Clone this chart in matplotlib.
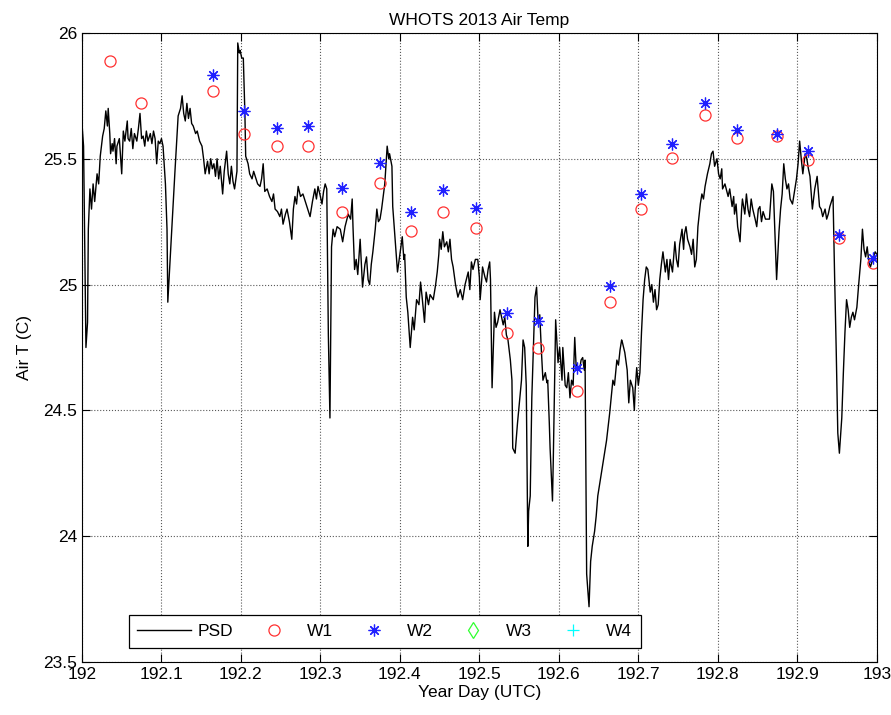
import numpy as np
import matplotlib
matplotlib.use('Agg')
import matplotlib.pyplot as plt

plt.rcParams['font.family'] = ['Liberation Sans', 'DejaVu Sans']

# PSD air temperature trace
psd_day = [
    192.000, 192.002, 192.005, 192.007, 192.008, 192.010, 192.012, 192.014, 192.016, 192.019,
    192.021, 192.023, 192.026, 192.028, 192.030, 192.032, 192.033, 192.035, 192.036, 192.038,
    192.039, 192.041, 192.043, 192.044, 192.047, 192.050, 192.052, 192.054, 192.057, 192.058,
    192.060, 192.062, 192.064, 192.066, 192.069, 192.071, 192.073, 192.075, 192.077, 192.079,
    192.081, 192.083, 192.086, 192.088, 192.090, 192.092, 192.094, 192.096, 192.098, 192.100,
    192.102, 192.105, 192.107, 192.108, 192.111, 192.113, 192.117, 192.121, 192.124, 192.126,
    192.128, 192.130, 192.132, 192.134, 192.136, 192.138, 192.140, 192.143, 192.145, 192.148,
    192.151, 192.153, 192.155, 192.158, 192.160, 192.162, 192.164, 192.166, 192.168, 192.170,
    192.172, 192.174, 192.177, 192.179, 192.182, 192.184, 192.186, 192.188, 192.190, 192.192,
    192.195, 192.196, 192.198, 192.199, 192.201, 192.203, 192.205, 192.206, 192.209, 192.211,
    192.214, 192.216, 192.218, 192.221, 192.224, 192.226, 192.228, 192.230, 192.233, 192.236,
    192.239, 192.241, 192.243, 192.246, 192.249, 192.251, 192.253, 192.256, 192.258, 192.261,
    192.264, 192.266, 192.268, 192.270, 192.272, 192.275, 192.278, 192.281, 192.284, 192.287,
    192.290, 192.293, 192.295, 192.297, 192.300, 192.302, 192.304, 192.306, 192.308, 192.310,
    192.312, 192.314, 192.316, 192.318, 192.321, 192.325, 192.328, 192.331, 192.335, 192.338,
    192.340, 192.341, 192.343, 192.345, 192.347, 192.350, 192.353, 192.356, 192.358, 192.360,
    192.362, 192.364, 192.366, 192.369, 192.371, 192.373, 192.375, 192.377, 192.379, 192.381,
    192.384, 192.386, 192.387, 192.390, 192.391, 192.394, 192.397, 192.400, 192.403, 192.405,
    192.406, 192.408, 192.410, 192.413, 192.416, 192.418, 192.421, 192.424, 192.426, 192.428,
    192.431, 192.433, 192.436, 192.438, 192.442, 192.445, 192.447, 192.449, 192.450, 192.452,
    192.454, 192.456, 192.459, 192.461, 192.463, 192.465, 192.467, 192.470, 192.473, 192.476,
    192.479, 192.482, 192.486, 192.488, 192.490, 192.492, 192.495, 192.498, 192.500, 192.501,
    192.503, 192.504, 192.507, 192.509, 192.511, 192.513, 192.514, 192.516, 192.519, 192.521,
    192.523, 192.526, 192.528, 192.530, 192.532, 192.534, 192.536, 192.539, 192.541, 192.542,
    192.545, 192.548, 192.551, 192.553, 192.555, 192.557, 192.559, 192.560, 192.561, 192.562,
    192.564, 192.566, 192.570, 192.572, 192.574, 192.576, 192.578, 192.580, 192.583, 192.585,
    192.586, 192.588, 192.589, 192.592, 192.593, 192.594, 192.596, 192.599, 192.601, 192.604,
    192.605, 192.608, 192.610, 192.612, 192.614, 192.616, 192.618, 192.620, 192.622, 192.623,
    192.626, 192.628, 192.630, 192.632, 192.633, 192.634, 192.635, 192.637, 192.638, 192.640,
    192.642, 192.645, 192.647, 192.649, 192.652, 192.654, 192.656, 192.658, 192.660, 192.664,
    192.668, 192.670, 192.673, 192.675, 192.677, 192.679, 192.680, 192.683, 192.686, 192.688,
    192.690, 192.693, 192.695, 192.696, 192.698, 192.700, 192.702, 192.704, 192.706, 192.708,
    192.710, 192.712, 192.715, 192.717, 192.719, 192.721, 192.723, 192.725, 192.727, 192.729,
    192.731, 192.734, 192.736, 192.738, 192.740, 192.743, 192.746, 192.748, 192.750, 192.752,
    192.755, 192.757, 192.758, 192.760, 192.762, 192.765, 192.767, 192.769, 192.771, 192.773,
    192.775, 192.778, 192.780, 192.782, 192.784, 192.787, 192.790, 192.792, 192.794, 192.796,
    192.799, 192.801, 192.803, 192.805, 192.806, 192.809, 192.813, 192.815, 192.818, 192.820,
    192.821, 192.823, 192.825, 192.828, 192.830, 192.831, 192.834, 192.836, 192.838, 192.840,
    192.842, 192.844, 192.847, 192.849, 192.851, 192.853, 192.855, 192.857, 192.860, 192.862,
    192.865, 192.868, 192.870, 192.872, 192.874, 192.877, 192.879, 192.881, 192.883, 192.885,
    192.887, 192.889, 192.891, 192.894, 192.897, 192.899, 192.901, 192.903, 192.905, 192.907,
    192.910, 192.912, 192.914, 192.916, 192.919, 192.922, 192.925, 192.927, 192.928, 192.930,
    192.932, 192.935, 192.937, 192.939, 192.941, 192.943, 192.945, 192.947, 192.949, 192.951,
    192.953, 192.956, 192.958, 192.960, 192.962, 192.964, 192.966, 192.968, 192.970, 192.972,
    192.975, 192.977, 192.980, 192.982, 192.984, 192.986, 192.988, 192.990, 192.992, 192.995,
    192.998, 193.000,
]
psd_temp = [
    25.64, 25.55, 24.75, 24.85, 25.22, 25.38, 25.30, 25.40, 25.33, 25.44,
    25.40, 25.51, 25.59, 25.62, 25.69, 25.63, 25.70, 25.60, 25.52, 25.56,
    25.53, 25.58, 25.48, 25.55, 25.58, 25.44, 25.61, 25.57, 25.65, 25.58,
    25.57, 25.62, 25.54, 25.60, 25.57, 25.62, 25.68, 25.58, 25.59, 25.55,
    25.61, 25.57, 25.60, 25.56, 25.61, 25.58, 25.48, 25.57, 25.56, 25.58,
    25.55, 25.40, 25.22, 24.93, 25.10, 25.22, 25.45, 25.67, 25.70, 25.75,
    25.68, 25.65, 25.72, 25.66, 25.70, 25.64, 25.63, 25.60, 25.61, 25.57,
    25.55, 25.50, 25.44, 25.49, 25.44, 25.50, 25.46, 25.48, 25.43, 25.50,
    25.42, 25.47, 25.36, 25.45, 25.53, 25.44, 25.40, 25.47, 25.41, 25.38,
    25.45, 25.96, 25.92, 25.93, 25.90, 25.90, 25.68, 25.51, 25.48, 25.44,
    25.42, 25.45, 25.43, 25.40, 25.39, 25.42, 25.48, 25.37, 25.38, 25.35,
    25.33, 25.36, 25.30, 25.29, 25.27, 25.30, 25.24, 25.28, 25.30, 25.25,
    25.18, 25.30, 25.35, 25.32, 25.39, 25.35, 25.36, 25.33, 25.30, 25.27,
    25.33, 25.38, 25.34, 25.39, 25.35, 25.32, 25.37, 25.40, 25.38, 24.80,
    24.47, 25.15, 25.22, 25.19, 25.23, 25.22, 25.17, 25.23, 25.28, 25.26,
    25.34, 25.23, 25.06, 25.10, 25.04, 25.18, 24.99, 25.08, 25.11, 25.02,
    25.00, 25.08, 25.13, 25.22, 25.30, 25.25, 25.26, 25.30, 25.35, 25.40,
    25.55, 25.50, 25.52, 25.47, 25.31, 25.18, 25.05, 25.12, 25.19, 25.10,
    25.12, 24.95, 24.89, 24.75, 24.87, 24.82, 24.94, 24.92, 25.01, 24.95,
    24.85, 24.97, 24.92, 24.96, 24.94, 25.00, 25.05, 25.12, 25.18, 25.14,
    25.21, 25.15, 25.17, 25.13, 25.18, 25.10, 25.07, 25.00, 24.95, 24.98,
    24.94, 25.00, 25.05, 24.98, 25.09, 25.06, 25.10, 25.10, 25.03, 24.94,
    25.02, 25.07, 25.03, 25.01, 25.06, 25.09, 25.02, 24.59, 24.89, 24.83,
    24.85, 24.90, 24.87, 24.84, 24.87, 24.80, 24.78, 24.70, 24.62, 24.35,
    24.33, 24.45, 24.55, 24.62, 24.78, 24.75, 24.60, 24.29, 23.96, 24.10,
    24.16, 24.55, 24.95, 24.99, 24.85, 24.88, 24.74, 24.62, 24.65, 24.61,
    24.62, 24.45, 24.35, 24.14, 24.30, 24.49, 24.86, 24.69, 24.75, 24.62,
    24.75, 24.60, 24.59, 24.65, 24.55, 24.62, 24.60, 24.79, 24.66, 24.68,
    24.66, 24.70, 24.71, 24.66, 24.70, 24.29, 23.85, 23.76, 23.72, 23.90,
    23.96, 24.02, 24.08, 24.16, 24.22, 24.26, 24.30, 24.34, 24.38, 24.49,
    24.62, 24.60, 24.70, 24.68, 24.74, 24.78, 24.77, 24.73, 24.66, 24.53,
    24.62, 24.59, 24.50, 24.58, 24.67, 24.60, 24.65, 24.81, 24.94, 25.02,
    25.07, 25.06, 24.97, 25.00, 24.93, 24.98, 24.90, 24.92, 25.02, 25.08,
    25.13, 25.05, 25.10, 25.02, 25.10, 25.05, 25.17, 25.10, 25.07, 25.16,
    25.22, 25.14, 25.20, 25.23, 25.18, 25.15, 25.12, 25.18, 25.07, 25.10,
    25.23, 25.32, 25.36, 25.34, 25.39, 25.44, 25.48, 25.52, 25.53, 25.47,
    25.50, 25.44, 25.42, 25.46, 25.38, 25.40, 25.35, 25.38, 25.31, 25.35,
    25.28, 25.32, 25.23, 25.17, 25.30, 25.34, 25.28, 25.36, 25.30, 25.27,
    25.34, 25.30, 25.26, 25.23, 25.30, 25.31, 25.25, 25.29, 25.26, 25.26,
    25.26, 25.40, 25.37, 25.20, 25.02, 25.21, 25.30, 25.36, 25.48, 25.42,
    25.38, 25.40, 25.34, 25.32, 25.38, 25.42, 25.48, 25.57, 25.50, 25.44,
    25.52, 25.50, 25.46, 25.43, 25.30, 25.38, 25.43, 25.35, 25.31, 25.30,
    25.27, 25.30, 25.26, 25.28, 25.31, 25.33, 25.35, 25.03, 24.74, 24.41,
    24.33, 24.47, 24.65, 24.81, 24.94, 24.90, 24.83, 24.87, 24.89, 24.86,
    24.91, 24.99, 25.10, 25.22, 25.14, 25.11, 25.15, 25.09, 25.07, 25.10,
    25.13, 25.12,
]

# hourly buoy sensors
w1_day = [192.035, 192.074, 192.165, 192.204, 192.245, 192.284, 192.327, 192.375,
          192.414, 192.454, 192.496, 192.535, 192.574, 192.623, 192.664, 192.704,
          192.743, 192.784, 192.824, 192.874, 192.913, 192.953, 192.995]
w1_temp = [25.89, 25.72, 25.77, 25.60, 25.55, 25.55, 25.29, 25.405,
           25.214, 25.29, 25.226, 24.809, 24.749, 24.577, 24.93, 25.30,
           25.504, 25.674, 25.584, 25.592, 25.495, 25.184, 25.085]
w2_day = w1_day[2:]
w2_temp = [25.833, 25.69, 25.624, 25.632, 25.385, 25.482, 25.29, 25.376,
           25.303, 24.886, 24.855, 24.67, 24.994, 25.36, 25.56, 25.72,
           25.614, 25.60, 25.53, 25.197, 25.107]
w3_day, w3_temp = [], []
w4_day, w4_temp = [], []

xticks = [192, 192.1, 192.2, 192.3, 192.4, 192.5, 192.6, 192.7, 192.8, 192.9, 193]
xticklabels = ['192', '192.1', '192.2', '192.3', '192.4', '192.5', '192.6', '192.7', '192.8', '192.9', '193']
yticks = [23.5, 24, 24.5, 25, 25.5, 26]
yticklabels = ['23.5', '24', '24.5', '25', '25.5', '26']

fig = plt.figure(figsize=(8.91, 7.15), dpi=100)
ax = fig.add_axes([0.092, 0.074, 0.892, 0.880])

ax.plot(psd_day, psd_temp, color='k', lw=1.0, label='PSD')
ax.plot(w1_day, w1_temp, ls='none', marker='o', mfc='none', mec='#ff3030', ms=8, mew=0.9, label='W1')
ax.plot(w2_day, w2_temp, ls='none', marker=(8, 2, 0), color='#2020ff', ms=8.5, mew=0.9, label='W2')
ax.plot(w3_day, w3_temp, ls='none', marker='d', mfc='none', mec='#30ff30', ms=8, mew=0.9, label='W3')
ax.plot(w4_day, w4_temp, ls='none', marker='+', color='#00ffff', ms=9, mew=0.9, label='W4')

ax.set_xlim(192, 193)
ax.set_ylim(23.5, 26)
ax.set_xticks(xticks)
ax.set_xticklabels(xticklabels)
ax.set_yticks(yticks)
ax.set_yticklabels(yticklabels)
ax.tick_params(direction='in', top=True, right=True, length=5.5, width=0.8, labelsize=12.5)
ax.grid(True, ls=':', color='0.35', lw=0.8)
for s in ax.spines.values():
    s.set_linewidth(0.8)

ax.set_title('WHOTS 2013 Air Temp', fontsize=12.5, pad=6)
ax.set_xlabel('Year Day (UTC)', fontsize=12.5, labelpad=2)
ax.set_ylabel('Air T (C)', fontsize=12.5, labelpad=8)

leg = ax.legend(loc='center', bbox_to_anchor=(0.381, 0.0485), ncol=5, fontsize=12.5,
                handlelength=3.1, handletextpad=0.35, columnspacing=0.8,
                fancybox=False, edgecolor='k', framealpha=1, borderpad=0.5)
leg.get_frame().set_linewidth(0.9)

fig.savefig('out.png', dpi=100)
